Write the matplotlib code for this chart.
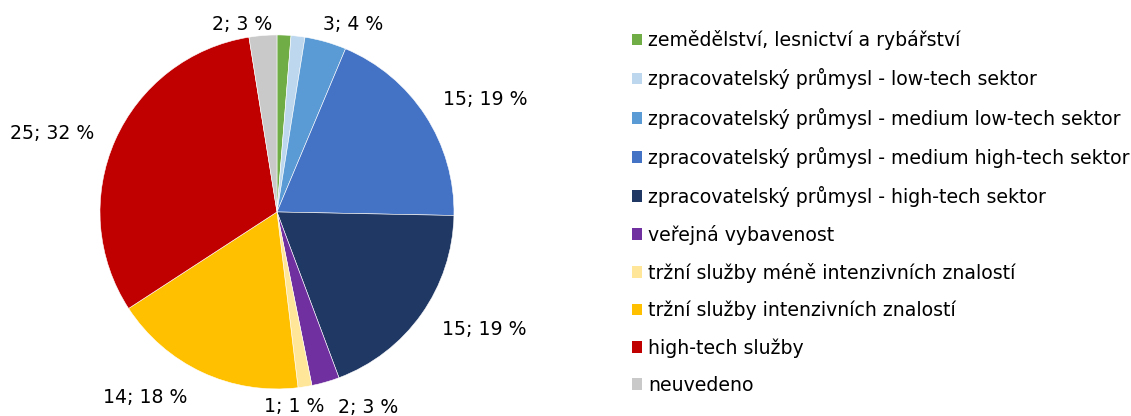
import numpy as np
import matplotlib
matplotlib.use('Agg')
import matplotlib.pyplot as plt
from matplotlib.patches import Patch

sektory = [
    'zemědělství, lesnictví a rybářství',
    'zpracovatelský průmysl - low-tech sektor',
    'zpracovatelský průmysl - medium low-tech sektor',
    'zpracovatelský průmysl - medium high-tech sektor',
    'zpracovatelský průmysl - high-tech sektor',
    'veřejná vybavenost',
    'tržní služby méně intenzivních znalostí',
    'tržní služby intenzivních znalostí',
    'high-tech služby',
    'neuvedeno',
]
pocty = [1, 1, 3, 15, 15, 2, 1, 14, 25, 2]
procenta = [1, 1, 4, 19, 19, 3, 1, 18, 32, 3]
zobrazit = [False, False, True, True, True, True, True, True, True, True]

barvy = ['#70AD47', '#BDD7EE', '#5B9BD5', '#4472C4', '#203864',
         '#7030A0', '#FFE699', '#FFC000', '#C00000', '#C9C9C9']

# posun popisku od okraje vysece (pixely)
posuny = [(0, 0), (0, 0), (28, 17), (60, 16), (63, -15),
          (43, -25), (-11, -20), (-57, -25), (-63, 7), (-21, 11)]

fig = plt.figure(figsize=(11.31, 4.16), dpi=100)
ax = fig.add_axes([0.0884, 0.065, 0.313, 0.851])

wedges, _ = ax.pie(pocty, colors=barvy, startangle=90, counterclock=False,
                   wedgeprops=dict(edgecolor='white', linewidth=0.4))
ax.set_aspect('equal')
ax.set_xlim(-1, 1)
ax.set_ylim(-1, 1)

for w, n, p, ok, (dx, dy) in zip(wedges, pocty, procenta, zobrazit, posuny):
    if not ok:
        continue
    uhel = np.deg2rad((w.theta1 + w.theta2) / 2)
    x, y = np.cos(uhel), np.sin(uhel)
    ax.annotate(f'{n}; {p} %', xy=(x, y), xytext=(dx, dy),
                textcoords='offset pixels', ha='center', va='center',
                fontsize=13.6, color='#000000', annotation_clip=False)

handles = [Patch(facecolor=c, edgecolor='none') for c in barvy]
fig.legend(handles, sektory, loc='upper left', bbox_to_anchor=(0.552, 0.945),
           frameon=False, fontsize=13.6, handlelength=0.55, handleheight=0.55,
           handletextpad=0.3, labelspacing=0.955, borderaxespad=0)

fig.savefig('out.png', dpi=100)
